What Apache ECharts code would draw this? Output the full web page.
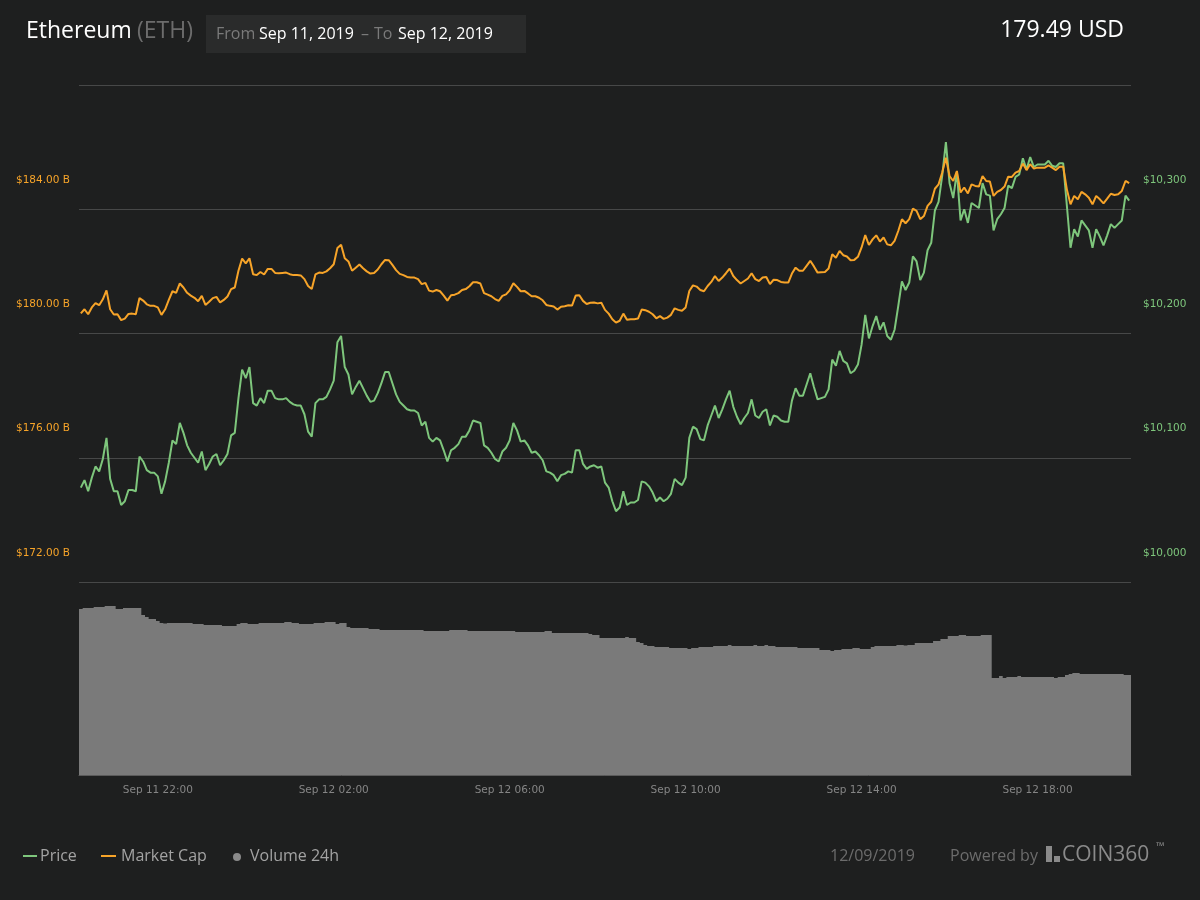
<!DOCTYPE html>
<html>
<head>
<meta charset="utf-8">
<title>Ethereum (ETH)</title>
<script src="https://cdn.jsdelivr.net/npm/echarts@6/dist/echarts.min.js"></script>
<style>
  html, body { margin: 0; padding: 0; background: #1e1f1f; }
  #chart { width: 1200px; height: 900px; }
</style>
</head>
<body>
<div id="chart"></div>
<script>
// 5 minute points, Sep 11 20:15 -> Sep 12 20:05
const startTime = Date.UTC(2019, 8, 11, 20, 15);
const stepMinutes = 5;
const pointCount = 287;
const monthNames = ['Jan', 'Feb', 'Mar', 'Apr', 'May', 'Jun', 'Jul', 'Aug', 'Sep', 'Oct', 'Nov', 'Dec'];
const labelHours = ['02', '06', '10', '14', '18', '22'];

const capTicks = [172, 188, 4];        // min, max, step (billions)
const priceTicks = [10000, 10400, 100]; // min, max, step

const price = [
  10076, 10082, 10073, 10084, 10093, 10089, 10099, 10116, 10083, 10073,
  10073, 10062, 10065, 10074, 10074, 10073, 10101, 10097, 10090, 10088,
  10088, 10085, 10071, 10081, 10096, 10114, 10111, 10128, 10120, 10110,
  10104, 10100, 10096, 10105, 10090, 10095, 10101, 10103, 10094, 10098,
  10103, 10118, 10120, 10148, 10171, 10164, 10173, 10144, 10142, 10148,
  10144, 10154, 10154, 10148, 10147, 10147, 10148, 10145, 10143, 10142,
  10142, 10135, 10121, 10117, 10144, 10147, 10147, 10149, 10155, 10162,
  10193, 10198, 10173,
  10167, 10151, 10157, 10162, 10156, 10150, 10145, 10146, 10152, 10160,
  10169, 10169, 10160, 10151, 10145, 10142, 10139, 10138, 10138, 10136,
  10126, 10129, 10116, 10113, 10116, 10114, 10106, 10097, 10106, 10108,
  10111, 10117, 10117, 10122, 10130, 10129, 10128, 10110, 10108, 10104,
  10099, 10097, 10105, 10108, 10114, 10128, 10122, 10113, 10114, 10110,
  10104, 10105, 10102, 10098, 10089, 10088, 10086, 10081, 10086, 10087,
  10089, 10088, 10106, 10106, 10095, 10091, 10093, 10094, 10092, 10093,
  10080, 10076,
  10065, 10057, 10060, 10073, 10062, 10064, 10064, 10066, 10081, 10080,
  10077, 10072, 10065, 10068, 10065, 10067, 10071, 10083, 10080, 10078,
  10084, 10116, 10125, 10123, 10115, 10114, 10126, 10134, 10142, 10132,
  10139, 10147, 10154, 10141, 10133, 10127, 10132, 10136, 10147, 10134,
  10132, 10137, 10139, 10126, 10134, 10133, 10130, 10129, 10129, 10146,
  10156, 10150, 10150, 10159, 10168, 10157, 10147, 10148, 10149, 10155,
  10179, 10174, 10186, 10178, 10176, 10168, 10170, 10175, 10191, 10215,
  10196, 10206,
  10214, 10203, 10209, 10198, 10195, 10203, 10222, 10242, 10235, 10241,
  10262, 10258, 10243, 10249, 10267, 10273, 10299, 10306, 10327, 10354,
  10321, 10309, 10330, 10291, 10300, 10289, 10305, 10303, 10301, 10321,
  10312, 10311, 10283, 10292, 10296, 10301, 10319, 10317, 10326, 10328,
  10341, 10332, 10342, 10334, 10336, 10336, 10336, 10339, 10335, 10334,
  10337, 10337, 10303, 10269, 10284, 10278, 10291, 10287, 10283, 10269,
  10284, 10278, 10271, 10279, 10288, 10285, 10288, 10291, 10311, 10307
];

const marketCap = [
  180.65, 180.78, 180.62, 180.84, 180.98, 180.91, 181.10, 181.39, 180.78, 180.61,
  180.62, 180.43, 180.48, 180.63, 180.64, 180.62, 181.14, 181.06, 180.94, 180.89,
  180.89, 180.84, 180.60, 180.78, 181.08, 181.36, 181.31, 181.61, 181.48, 181.31,
  181.22, 181.15, 181.04, 181.21, 180.92, 181.02, 181.14, 181.18, 181.00, 181.08,
  181.19, 181.43, 181.48, 182.02, 182.41, 182.26, 182.42, 181.91, 181.88, 181.98,
  181.90, 182.08, 182.08, 181.95, 181.94, 181.95, 181.96, 181.91, 181.88, 181.88,
  181.87, 181.75, 181.53, 181.43, 181.90, 181.96, 181.95, 182.00, 182.10, 182.23,
  182.75, 182.86, 182.42,
  182.32, 182.02, 182.12, 182.22, 182.10, 182.00, 181.93, 181.95, 182.06, 182.23,
  182.37, 182.36, 182.21, 182.04, 181.92, 181.88, 181.82, 181.80, 181.80, 181.75,
  181.59, 181.63, 181.38, 181.35, 181.40, 181.36, 181.22, 181.06, 181.23, 181.25,
  181.30, 181.40, 181.43, 181.52, 181.65, 181.65, 181.61, 181.30, 181.25, 181.20,
  181.11, 181.05, 181.21, 181.26, 181.39, 181.62, 181.50, 181.36, 181.37, 181.29,
  181.20, 181.20, 181.15, 181.07, 180.92, 180.89, 180.87, 180.77, 180.86, 180.88,
  180.91, 180.90, 181.22, 181.23, 181.05, 180.95, 180.99, 181.00, 180.97, 180.99,
  180.76, 180.64,
  180.46, 180.35, 180.41, 180.64, 180.44, 180.46, 180.46, 180.48, 180.77, 180.75,
  180.70, 180.62, 180.49, 180.56, 180.47, 180.51, 180.60, 180.81, 180.76, 180.73,
  180.84, 181.37, 181.55, 181.51, 181.40, 181.36, 181.53, 181.66, 181.85, 181.69,
  181.80, 181.94, 182.09, 181.85, 181.72, 181.61, 181.69, 181.77, 181.94, 181.75,
  181.69, 181.80, 181.82, 181.59, 181.73, 181.72, 181.66, 181.64, 181.64, 181.93,
  182.12, 182.02, 182.02, 182.18, 182.34, 182.16, 181.96, 181.97, 181.98, 182.09,
  182.55, 182.44, 182.66, 182.52, 182.48, 182.36, 182.37, 182.47, 182.77, 183.17,
  182.85, 183.03,
  183.16, 182.96, 183.09, 182.87, 182.84, 182.98, 183.30, 183.68, 183.55, 183.68,
  184.02, 183.95, 183.68, 183.78, 184.11, 184.24, 184.66, 184.80, 185.18, 185.66,
  185.07, 184.91, 185.23, 184.54, 184.70, 184.51, 184.80, 184.75, 184.73, 185.07,
  184.91, 184.89, 184.43, 184.56, 184.62, 184.73, 185.05, 185.04, 185.18, 185.23,
  185.47, 185.26, 185.45, 185.31, 185.34, 185.34, 185.34, 185.41, 185.34, 185.26,
  185.37, 185.37, 184.64, 184.16, 184.43, 184.32, 184.56, 184.48, 184.37, 184.16,
  184.43, 184.32, 184.19, 184.34, 184.50, 184.46, 184.48, 184.59, 184.91, 184.84
];

// 24h volume, billions USD
const volume24h = [
  8.3, 8.35, 8.35, 8.35, 8.4, 8.4, 8.4, 8.45, 8.45, 8.45,
  8.3, 8.3, 8.35, 8.35, 8.35, 8.35, 8.35, 8.0, 7.9, 7.8,
  7.8, 7.7, 7.6, 7.57, 7.6, 7.6, 7.6, 7.6, 7.6, 7.6,
  7.6, 7.55, 7.55, 7.55, 7.5, 7.5, 7.5, 7.5, 7.5, 7.45,
  7.45, 7.45, 7.45, 7.55, 7.6, 7.6, 7.55, 7.55, 7.55, 7.6,
  7.6, 7.6, 7.6, 7.6, 7.6, 7.6, 7.65, 7.65, 7.6, 7.6,
  7.55, 7.55, 7.55, 7.55, 7.6, 7.6, 7.6, 7.65, 7.65, 7.65,
  7.55, 7.6, 7.6, 7.4, 7.35, 7.35, 7.35, 7.35, 7.35, 7.3,
  7.3, 7.3, 7.25, 7.25, 7.25, 7.25, 7.25, 7.25, 7.25, 7.25,
  7.25, 7.25, 7.25, 7.25, 7.2, 7.2, 7.2, 7.2, 7.2, 7.2,
  7.2, 7.25, 7.25, 7.25, 7.25, 7.25, 7.2, 7.2, 7.2, 7.2,
  7.2, 7.2, 7.2, 7.2, 7.2, 7.2, 7.2, 7.2, 7.2, 7.15,
  7.15, 7.15, 7.15, 7.15, 7.15, 7.15, 7.15, 7.2, 7.2, 7.1,
  7.1, 7.1, 7.1, 7.1, 7.1, 7.1, 7.1, 7.1, 7.1, 7.05,
  7.0, 7.0, 6.85, 6.85, 6.85, 6.85, 6.85, 6.85, 6.85, 6.9,
  6.85, 6.85, 6.65, 6.6, 6.5, 6.45, 6.45, 6.4, 6.4, 6.4,
  6.4, 6.35, 6.35, 6.35, 6.35, 6.35, 6.3, 6.35, 6.35, 6.4,
  6.4, 6.4, 6.4, 6.45, 6.45, 6.45, 6.45, 6.5, 6.45, 6.45,
  6.45, 6.45, 6.45, 6.45, 6.5, 6.45, 6.45, 6.5, 6.45, 6.45,
  6.4, 6.4, 6.4, 6.4, 6.4, 6.4, 6.35, 6.35, 6.35, 6.35,
  6.35, 6.35, 6.25, 6.25, 6.25, 6.2, 6.25, 6.25, 6.3, 6.3,
  6.3, 6.35, 6.35, 6.3, 6.3, 6.3, 6.4, 6.45, 6.45, 6.45,
  6.45, 6.45, 6.45, 6.5, 6.5, 6.47, 6.5, 6.5, 6.6, 6.6,
  6.6, 6.6, 6.6, 6.7, 6.7, 6.8, 6.8, 6.95, 6.95, 6.95,
  7.0, 7.0, 6.95, 6.95, 6.95, 6.95, 7.0, 7.0, 7.0, 4.85,
  4.85, 4.95, 4.85, 4.9, 4.9, 4.9, 4.95, 4.9, 4.9, 4.9,
  4.9, 4.9, 4.9, 4.9, 4.9, 4.9, 4.85, 4.9, 4.9, 5.0,
  5.05, 5.1, 5.1, 5.05, 5.05, 5.05, 5.05, 5.05, 5.05, 5.05,
  5.05, 5.05, 5.05, 5.05, 5.05, 5.0, 5.0
];

(function () {
  'use strict';

  const GREEN = '#7ec67c';
  const ORANGE = '#f7a429';
  const GRID_LINE = '#474848';
  const AXIS_FONT = '"DejaVu Sans", sans-serif';
  const UI_FONT = '"Open Sans", "Noto Sans", sans-serif';

  function pad(n) { return n < 10 ? '0' + n : '' + n; }

  const times = [];
  for (let i = 0; i < pointCount; i++) {
    const d = new Date(startTime + i * stepMinutes * 60000);
    times.push(monthNames[d.getUTCMonth()] + ' ' + d.getUTCDate() + ' ' +
      pad(d.getUTCHours()) + ':' + pad(d.getUTCMinutes()));
  }

  // only every 4h, on the hour
  function isLabelSlot(idx, value) {
    const hm = value.slice(-5);
    return hm.slice(3) === '00' && labelHours.indexOf(hm.slice(0, 2)) !== -1;
  }

  // labels sit ~29px above their grid line: 3 lines of 29px, text on the first
  function lifted(s) { return s + '\n\u00a0\n\u00a0'; }

  function txt(x, y, text, size, fill, extra) {
    return Object.assign({
      type: 'text', x: x, y: y,
      style: { text: text, font: size + 'px ' + UI_FONT, fill: fill, verticalAlign: 'middle' }
    }, extra || {});
  }

  const chart = echarts.init(document.getElementById('chart'));

  chart.setOption({
    backgroundColor: '#1e1f1f',
    animation: false,
    grid: [
      { left: 79, right: 69, top: 85, height: 497 },
      { left: 79, right: 69, top: 582, bottom: 125 }
    ],
    xAxis: [
      { type: 'category', gridIndex: 0, data: times, boundaryGap: true, show: false },
      {
        type: 'category', gridIndex: 1, data: times, boundaryGap: true,
        axisLine: { lineStyle: { color: '#5a5a5a', width: 1 } },
        axisTick: { alignWithLabel: true, interval: isLabelSlot, length: 5, lineStyle: { color: '#6a6a6a' } },
        axisLabel: { interval: isLabelSlot, color: '#858585', fontSize: 10.5, fontFamily: AXIS_FONT, margin: 10 }
      }
    ],
    yAxis: [
      {
        type: 'value', gridIndex: 0, position: 'left',
        min: capTicks[0], max: capTicks[1], interval: capTicks[2],
        axisLine: { show: false }, axisTick: { show: false },
        splitLine: { lineStyle: { color: GRID_LINE, width: 1 } },
        axisLabel: {
          color: ORANGE, fontSize: 10.5, fontFamily: AXIS_FONT, align: 'left', margin: 63,
          verticalAlign: 'middle', lineHeight: 29, showMaxLabel: false,
          formatter: v => lifted('$' + v.toFixed(2) + ' B')
        }
      },
      {
        type: 'value', gridIndex: 0, position: 'right',
        min: priceTicks[0], max: priceTicks[1], interval: priceTicks[2],
        axisLine: { show: false }, axisTick: { show: false }, splitLine: { show: false },
        axisLabel: {
          color: GREEN, fontSize: 10.5, fontFamily: AXIS_FONT, margin: 12,
          verticalAlign: 'middle', lineHeight: 29, showMaxLabel: false,
          formatter: v => lifted('$' + v.toLocaleString('en-US'))
        }
      },
      { type: 'value', gridIndex: 1, min: 0, max: 9.65, show: false }
    ],
    series: [
      {
        // large mode fills all columns as one path, so no seams between them
        name: 'Volume 24h', type: 'bar', xAxisIndex: 1, yAxisIndex: 2,
        data: volume24h, barCategoryGap: '0%', barGap: '0%',
        large: true, largeThreshold: 100,
        itemStyle: { color: '#7a7a7a' }
      },
      {
        name: 'Price', type: 'line', xAxisIndex: 0, yAxisIndex: 1, data: price,
        showSymbol: false, lineStyle: { color: GREEN, width: 2 }, itemStyle: { color: GREEN }, z: 3
      },
      {
        name: 'Market Cap', type: 'line', xAxisIndex: 0, yAxisIndex: 0, data: marketCap,
        showSymbol: false, lineStyle: { color: ORANGE, width: 2 }, itemStyle: { color: ORANGE }, z: 4
      }
    ],
    graphic: [
      // header
      txt(26, 31, 'Ethereum', 23, '#ffffff'),
      txt(137, 31, '(ETH)', 23, '#6c6c6c'),
      { type: 'rect', shape: { x: 206, y: 15, width: 320, height: 38 }, style: { fill: '#2a2b2b' } },
      txt(216, 34, 'From', 16, '#7a7a7a'),
      txt(259, 34, 'Sep 11, 2019', 16, '#ffffff'),
      txt(361, 34, '–', 16, '#7a7a7a'),
      txt(374, 34, 'To', 16, '#7a7a7a'),
      txt(398, 34, 'Sep 12, 2019', 16, '#ffffff'),
      { type: 'text', x: 1124, y: 30, style: { text: '179.49 USD', font: '23px ' + UI_FONT, fill: '#ffffff', align: 'right', verticalAlign: 'middle' } },
      // footer legend
      { type: 'rect', shape: { x: 23, y: 855, width: 14, height: 2 }, style: { fill: GREEN } },
      txt(40, 856, 'Price', 16, '#a3a3a3'),
      { type: 'rect', shape: { x: 101, y: 855, width: 15, height: 2 }, style: { fill: ORANGE } },
      txt(121, 856, 'Market Cap', 16, '#a3a3a3'),
      { type: 'circle', shape: { cx: 237, cy: 857, r: 4 }, style: { fill: '#8a8a8a' } },
      txt(250, 856, 'Volume 24h', 16, '#a3a3a3'),
      txt(830, 856, '12/09/2019', 16, '#6c6c6c'),
      txt(950, 856, 'Powered by', 16, '#6c6c6c'),
      // coin360 mark
      { type: 'rect', shape: { x: 1046, y: 846, width: 6, height: 16 }, style: { fill: '#8a8a8a' } },
      { type: 'rect', shape: { x: 1054, y: 856, width: 6, height: 6 }, style: { fill: '#8a8a8a' } },
      txt(1062, 855, 'COIN360', 21, '#8a8a8a'),
      txt(1156, 847, '™', 11, '#8a8a8a')
    ]
  });

  window.addEventListener('resize', () => chart.resize());
})();
</script>
</body>
</html>
